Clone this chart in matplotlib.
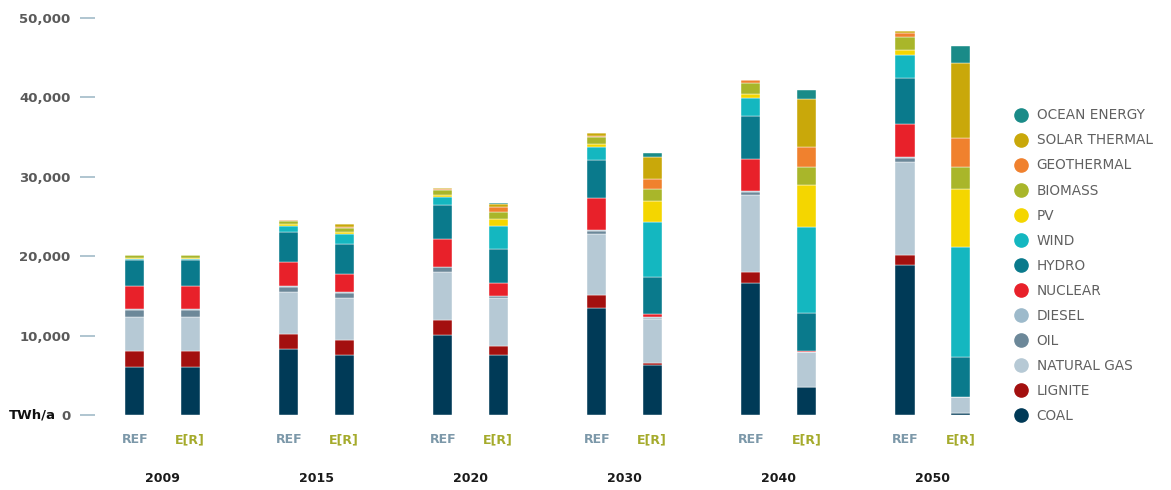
import matplotlib
matplotlib.use("Agg")
import matplotlib.pyplot as plt
import numpy as np
from matplotlib.lines import Line2D

# electricity generation by source, TWh/a
years = ["2009", "2015", "2020", "2030", "2040", "2050"]
scenarios = ["REF", "E[R]"]

# one value per bar: 2009 REF, 2009 E[R], 2015 REF, 2015 E[R], ...
coal = [6100, 6100, 8300, 7550, 10100, 7550, 13500, 6300, 16600, 3500, 18900, 250]
lignite = [2000, 2000, 1900, 1900, 1900, 1200, 1600, 200, 1450, 50, 1250, 0]
natural_gas = [4300, 4300, 5250, 5300, 6000, 6000, 7750, 5600, 9650, 4350, 11750, 2050]
oil = [800, 800, 700, 600, 600, 200, 350, 100, 350, 0, 450, 0]
diesel = [100, 100, 100, 100, 100, 100, 100, 100, 100, 50, 100, 0]
nuclear = [2900, 2900, 3000, 2300, 3500, 1600, 4000, 450, 4100, 150, 4150, 0]
hydro = [3350, 3350, 3800, 3800, 4300, 4200, 4850, 4600, 5350, 4800, 5850, 5050]
wind = [150, 150, 700, 1200, 1000, 2950, 1650, 6900, 2300, 10750, 2850, 13800]
pv = [50, 50, 250, 300, 250, 900, 350, 2750, 550, 5350, 650, 7300]
biomass = [350, 350, 450, 500, 600, 850, 900, 1450, 1400, 2200, 1650, 2750]
geothermal = [50, 50, 50, 100, 100, 600, 150, 1250, 400, 2500, 450, 3700]
solar_thermal = [0, 0, 50, 400, 150, 400, 300, 2800, 0, 6100, 300, 9450]
ocean_energy = [0, 0, 0, 0, 0, 200, 0, 550, 0, 1150, 0, 2100]

series = [
    ("COAL", coal, "#003a57"),
    ("LIGNITE", lignite, "#a3100f"),
    ("NATURAL GAS", natural_gas, "#b6c9d5"),
    ("OIL", oil, "#6c8899"),
    ("DIESEL", diesel, "#9dbacb"),
    ("NUCLEAR", nuclear, "#e8212a"),
    ("HYDRO", hydro, "#0a7a8c"),
    ("WIND", wind, "#14b7c0"),
    ("PV", pv, "#f4d600"),
    ("BIOMASS", biomass, "#a9b62a"),
    ("GEOTHERMAL", geothermal, "#f0812e"),
    ("SOLAR THERMAL", solar_thermal, "#c9a80a"),
    ("OCEAN ENERGY", ocean_energy, "#1a8b88"),
]

plt.rcParams["font.family"] = ["DejaVu Sans"]

fig = plt.figure(figsize=(11.71, 4.90), dpi=100)
# axes box: x 95..985 px, y 18..415 px
ax = fig.add_axes([95 / 1171, 75 / 490, 890 / 1171, 397 / 490])

n_groups = len(years)
offset = 0.18
bar_w = 0.125
group_x = np.arange(n_groups)
bar_x = np.ravel(np.column_stack([group_x - offset, group_x + offset]))

bottom = np.zeros(len(bar_x))
for name, vals, color in series:
    vals = np.array(vals, dtype=float)
    ax.bar(bar_x, vals, bar_w, bottom=bottom, color=color,
           edgecolor="white", linewidth=0.3)
    bottom += vals

ax.set_xlim(-0.438, 5.34)
ax.set_ylim(0, 50000)

for s in ax.spines.values():
    s.set_visible(False)

ax.set_yticks(np.arange(0, 50001, 10000))
ax.set_yticklabels(["0"] + [f"{v:,}" for v in range(10000, 50001, 10000)])
ax.tick_params(axis="y", length=10.5, width=1.3, color="#a9c0cd", pad=7,
               labelsize=9.5, labelcolor="#5a5a5a")
for lbl in ax.get_yticklabels():
    lbl.set_fontweight("bold")
ax.text(-0.0445, 0, "TWh/a", transform=ax.get_yaxis_transform(),
        ha="right", va="center", fontsize=9.5, fontweight="bold", color="#111111")

ax.set_xticks(bar_x)
ax.set_xticklabels(scenarios * n_groups)
ax.tick_params(axis="x", length=0, pad=13, labelsize=9)
for i, lbl in enumerate(ax.get_xticklabels()):
    lbl.set_fontweight("bold")
    lbl.set_color("#7c98a9" if i % 2 == 0 else "#a5ab2c")

for g, yr in zip(group_x, years):
    ax.text(g, -0.159, yr, transform=ax.get_xaxis_transform(), ha="center",
            va="center", fontsize=9, fontweight="bold", color="#1a1a1a")

handles = [Line2D([], [], marker="o", linestyle="", markersize=9.5,
                  color=c, label=n) for n, _, c in reversed(series)]
fig.legend(handles=handles, loc="upper left",
           bbox_to_anchor=(1010 / 1171, 1 - 103 / 490), frameon=False,
           fontsize=9.8, labelcolor="#606060", handlelength=0.8,
           handletextpad=0.75, labelspacing=0.81, borderaxespad=0)

fig.savefig("out.png", dpi=100)
